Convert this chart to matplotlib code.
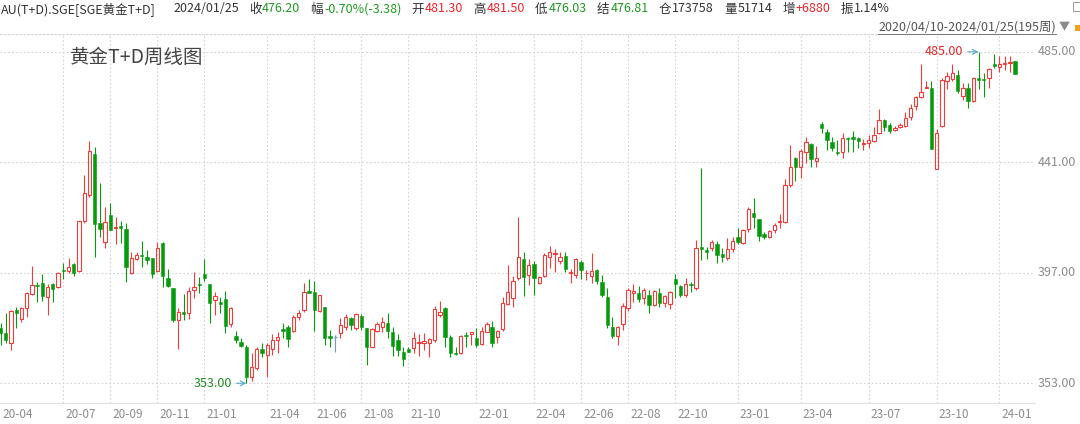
import numpy as np
import matplotlib.pyplot as plt
from matplotlib.patches import Rectangle
from matplotlib.lines import Line2D

plt.rcParams['font.family'] = ['Noto Sans CJK SC', 'DejaVu Sans']

# weekly OHLC, 2020/04/10 - 2024/01/25 (195 weeks)
opens = [374.9, 372.9, 368.9, 382.2, 378.5, 382.8, 388.4, 392.3, 393.1, 387.2,
         392.4, 391.5, 398.1, 397.8, 400.4, 397.8, 417.8, 428.0, 444.3, 416.7,
         409.4, 419.9, 414.9, 415.6, 414.4, 397.0, 402.6, 403.9, 403.1, 403.0,
         397.8, 408.7, 394.8, 390.8, 378.2, 381.4, 380.8, 390.1, 392.5, 396.5,
         392.5, 386.1, 385.5, 386.6, 376.6, 371.9, 369.3, 367.3, 355.6, 358.9,
         366.5, 364.2, 366.5, 370.2, 374.5, 375.5, 373.8, 379.2, 382.2, 389.9,
         389.5, 381.9, 383.2, 371.8, 371.3, 372.9, 375.5, 378.8, 374.9, 379.9,
         374.9, 367.3, 373.8, 375.5, 376.9, 373.3, 370.2, 365.6, 366.5, 366.9,
         369.2, 369.2, 369.2, 370.2, 380.2, 382.8, 371.6, 365.2, 365.2, 372.2,
         372.6, 370.9, 368.6, 373.5, 375.5, 371.3, 374.5, 384.4, 386.8, 394.8,
         402.3, 396.1, 400.5, 392.8, 395.7, 403.1, 404.3, 401.8, 403.7, 397.0,
         396.1, 401.4, 396.8, 395.7, 398.1, 393.5, 387.2, 375.5, 371.9, 376.6,
         382.8, 389.1, 389.1, 386.8, 388.1, 384.2, 389.1, 384.8, 384.5, 394.4,
         391.7, 388.1, 392.5, 390.8, 407.1, 406.1, 406.7, 408.5, 404.5, 402.8,
         406.3, 411.4, 408.7, 414.3, 420.9, 418.4, 412.4, 411.4, 414.0, 417.4,
         417.1, 431.9, 442.8, 439.3, 445.2, 448.3, 441.6, 456.2, 453.2, 449.2,
         445.0, 444.9, 450.8, 451.2, 450.5, 448.3, 448.8, 449.6, 452.8, 457.8,
         455.9, 453.9, 454.9, 455.5, 459.2, 463.6, 466.9, 470.6, 470.5, 438.2,
         455.5, 473.5, 474.2, 475.8, 467.5, 470.5, 465.4, 474.3, 474.1, 474.4,
         479.9, 479.1, 480.3, 480.5, 481.3]
highs = [376.9, 380.8, 382.2, 383.5, 383.5, 389.5, 399.7, 393.5, 396.4, 392.5,
         393.1, 397.4, 400.8, 402.7, 401.0, 417.8, 435.9, 449.5, 447.2, 432.6,
         423.1, 424.6, 419.3, 417.7, 416.7, 405.4, 405.4, 409.8, 406.1, 403.0,
         409.1, 409.4, 398.4, 390.8, 382.8, 388.4, 391.5, 397.4, 395.4, 402.4,
         392.5, 389.5, 387.5, 389.9, 383.5, 373.8, 371.0, 368.2, 365.2, 367.6,
         368.9, 368.9, 372.6, 373.5, 376.9, 376.2, 380.2, 382.2, 392.8, 394.4,
         393.8, 388.1, 383.2, 374.4, 372.2, 378.8, 380.6, 379.2, 381.1, 380.6,
         374.9, 374.9, 377.5, 379.5, 380.8, 375.5, 372.6, 367.6, 367.6, 373.3,
         372.6, 372.9, 370.9, 383.8, 385.9, 383.5, 372.2, 367.6, 372.2, 373.5,
         373.5, 374.9, 375.3, 377.5, 377.9, 374.2, 387.2, 400.1, 395.7, 419.3,
         405.4, 402.3, 401.8, 395.7, 405.0, 407.7, 406.3, 405.4, 405.4, 398.4,
         402.7, 402.1, 398.1, 404.7, 398.6, 396.1, 390.8, 379.5, 375.9, 385.1,
         390.8, 392.5, 391.7, 390.8, 390.1, 390.1, 390.8, 388.1, 389.7, 396.5,
         392.1, 394.8, 393.5, 410.0, 438.6, 407.1, 410.0, 409.8, 406.7, 410.7,
         411.4, 414.7, 414.3, 423.1, 426.6, 418.4, 413.4, 414.0, 416.7, 420.4,
         434.2, 447.9, 443.2, 446.2, 451.2, 448.8, 447.6, 456.9, 454.1, 450.9,
         449.9, 452.8, 451.2, 453.6, 451.2, 450.1, 451.9, 454.9, 462.1, 458.1,
         456.8, 455.4, 456.5, 461.2, 464.2, 467.4, 480.1, 473.5, 473.5, 454.1,
         474.4, 477.1, 480.1, 477.8, 472.4, 472.4, 474.8, 485.0, 476.4, 478.4,
         484.1, 483.3, 483.3, 483.3, 481.5]
lows = [368.2, 368.9, 366.2, 374.9, 377.5, 379.5, 388.1, 385.5, 385.9, 380.2,
        385.5, 390.8, 394.4, 396.8, 395.7, 397.4, 416.7, 427.3, 403.1, 411.1,
        406.7, 414.0, 408.5, 408.7, 393.5, 396.5, 402.1, 399.2, 400.5, 394.8,
        397.4, 391.2, 391.2, 377.5, 366.5, 378.2, 378.5, 386.8, 389.1, 393.9,
        377.1, 380.2, 381.1, 373.1, 375.5, 368.9, 367.3, 353.0, 354.0, 358.3,
        363.3, 355.4, 364.2, 364.9, 370.9, 367.6, 373.5, 378.2, 381.5, 388.8,
        373.9, 381.5, 368.2, 367.6, 365.3, 370.9, 374.2, 374.2, 374.2, 374.2,
        360.3, 367.3, 373.5, 373.5, 370.9, 363.9, 363.9, 360.0, 365.6, 364.9,
        363.9, 366.2, 363.6, 369.6, 379.5, 367.6, 363.3, 364.2, 364.7, 367.6,
        368.2, 367.6, 368.2, 373.5, 367.6, 369.2, 373.9, 384.2, 383.5, 394.1,
        387.7, 392.1, 388.1, 392.5, 395.2, 398.8, 397.4, 400.5, 397.4, 392.8,
        394.8, 394.4, 394.1, 393.1, 392.5, 387.2, 374.9, 370.9, 368.2, 374.2,
        381.9, 385.5, 385.5, 384.6, 381.1, 383.8, 383.2, 383.5, 382.6, 386.8,
        387.2, 387.5, 389.5, 390.1, 402.1, 402.3, 405.8, 400.8, 401.4, 402.1,
        405.4, 408.5, 408.5, 413.4, 414.7, 409.8, 410.3, 410.7, 412.7, 414.7,
        416.9, 431.3, 433.7, 434.6, 440.6, 439.0, 439.3, 452.5, 445.9, 445.6,
        443.9, 442.6, 445.2, 445.2, 446.6, 445.9, 446.6, 449.2, 452.3, 453.6,
        452.8, 453.6, 454.5, 455.2, 457.8, 461.8, 466.5, 470.5, 446.2, 438.2,
        455.2, 470.1, 473.5, 468.5, 465.8, 462.5, 465.1, 470.0, 466.9, 470.4,
        478.4, 477.1, 477.7, 477.1, 476.03]
closes = [372.9, 370.2, 381.8, 380.9, 382.8, 388.8, 392.1, 391.9, 387.9, 391.5,
          390.5, 397.0, 397.6, 399.4, 397.0, 417.6, 428.6, 445.6, 416.3, 414.4,
          417.4, 414.0, 415.1, 415.0, 399.4, 402.7, 403.9, 403.7, 402.2, 396.5,
          406.7, 395.9, 391.7, 378.2, 381.5, 380.4, 389.7, 391.5, 392.1, 395.0,
          385.1, 387.7, 384.6, 375.8, 382.8, 370.2, 368.0, 355.6, 359.3, 366.5,
          365.2, 368.2, 370.2, 371.5, 373.8, 370.5, 379.2, 380.8, 389.2, 389.1,
          382.2, 388.1, 370.9, 370.9, 371.3, 376.2, 379.2, 376.2, 380.6, 375.3,
          367.3, 374.5, 376.6, 377.3, 374.0, 367.8, 366.2, 362.5, 365.6, 370.9,
          369.3, 369.7, 370.5, 382.4, 381.5, 371.6, 364.9, 364.7, 371.8, 371.8,
          373.3, 368.2, 373.9, 376.6, 368.9, 373.8, 384.8, 389.5, 393.9, 403.1,
          395.2, 400.1, 394.8, 395.2, 404.1, 405.1, 405.0, 403.1, 398.5, 397.1,
          402.3, 398.1, 396.9, 397.7, 393.9, 388.1, 376.2, 371.9, 375.5, 383.8,
          390.1, 389.7, 386.4, 390.1, 384.2, 389.7, 384.8, 387.7, 389.5, 392.4,
          388.1, 392.4, 392.0, 407.0, 406.3, 405.4, 409.4, 404.1, 403.2, 406.3,
          409.7, 409.4, 414.0, 422.4, 419.1, 411.7, 411.1, 413.5, 416.0, 417.5,
          431.9, 439.3, 439.3, 445.5, 448.9, 442.3, 442.6, 454.5, 449.9, 446.6,
          444.8, 450.5, 450.4, 450.3, 449.6, 448.4, 449.9, 451.9, 457.8, 454.9,
          453.6, 454.8, 455.9, 458.5, 462.5, 466.9, 468.9, 470.7, 446.2, 452.8,
          473.8, 475.4, 476.4, 469.5, 470.5, 465.5, 474.4, 474.0, 473.8, 478.0,
          479.6, 480.1, 480.4, 480.7, 476.2]

month_idx = [12, 21, 30, 39, 51, 60, 69, 78, 91, 102, 111, 120, 129, 141, 153, 166, 179, 191]
month_labels = ['20-07', '20-09', '20-11', '21-01', '21-04', '21-06', '21-08', '21-10',
                '22-01', '22-04', '22-06', '22-08', '22-10', '23-01', '23-04', '23-07',
                '23-10', '24-01']
y_ticks = [353.00, 397.00, 441.00, 485.00]

header_parts = [
    [('AU(T+D).SGE[SGE黄金T+D]', 'k')],
    [('2024/01/25', 'k')],
    [('收', 'k'), ('476.20', 'g')],
    [('幅', 'k'), ('-0.70%(-3.38)', 'g')],
    [('开', 'k'), ('481.30', 'r')],
    [('高', 'k'), ('481.50', 'r')],
    [('低', 'k'), ('476.03', 'g')],
    [('结', 'k'), ('476.81', 'g')],
    [('仓', 'k'), ('173758', 'k')],
    [('量', 'k'), ('51714', 'k')],
    [('增', 'k'), ('+6880', 'r')],
    [('振', 'k'), ('1.14%', 'k')],
]

UP = '#f23b3b'
DOWN = '#079a0f'
FLAT = '#6f9cc6'
GRID = '#d4d4d4'
TXT = {'k': '#333333', 'g': '#1f9a22', 'r': '#e8262a'}

W, H = 1080, 424
fig = plt.figure(figsize=(W / 100, H / 100), dpi=100)
fig.patch.set_facecolor('white')
ax = fig.add_axes([0, 21 / H, 1035 / W, 369 / H])

n = len(opens)
bw = 0.64
for j in range(n):
    o, h, l, c = opens[j], highs[j], lows[j], closes[j]
    if c > o:
        ax.vlines(j, c, h, color=UP, lw=0.8)
        ax.vlines(j, l, o, color=UP, lw=0.8)
        ax.add_patch(Rectangle((j - bw / 2, o), bw, max(c - o, 0.3), fill=False,
                               edgecolor=UP, lw=0.8))
    elif c < o:
        ax.vlines(j, l, h, color=DOWN, lw=0.8)
        hgt = max(o - c, 0.45)
        ax.add_patch(Rectangle((j - bw / 2, (o + c) / 2 - hgt / 2), bw, hgt,
                               facecolor=DOWN, edgecolor=DOWN, lw=0.4))
    else:
        ax.vlines(j, l, h, color=FLAT, lw=0.8)
        ax.hlines(o, j - bw / 2, j + bw / 2, color=FLAT, lw=1.0)

ax.set_xlim(-0.1, 197.8)
ax.set_ylim(345.14, 492.09)

dots = (0, (1.5, 2))
for v in y_ticks:
    ax.axhline(v, color=GRID, lw=0.8, linestyle=dots, zorder=0)
for j in month_idx:
    ax.axvline(j, color=GRID, lw=0.8, linestyle=dots, zorder=0)

ax.set_xticks([])
ax.set_yticks([])
for s in ['left', 'right']:
    ax.spines[s].set_visible(False)
ax.spines['bottom'].set_color('#e2e2e2')
ax.spines['top'].set_color(GRID)
ax.spines['top'].set_linestyle(dots)

for j, lab in zip([0] + month_idx, ['20-04'] + month_labels):
    ax.annotate(lab, xy=(j, 0), xycoords=('data', 'axes fraction'),
                xytext=(2, -11), textcoords='offset pixels', ha='left', va='center',
                fontsize=8.5, color='#8c8c8c')
for v in y_ticks:
    ax.annotate(f'{v:.2f}', xy=(1, v), xycoords=('axes fraction', 'data'),
                xytext=(3, 0), textcoords='offset pixels', ha='left', va='center',
                fontsize=9, color='#8c8c8c')

# high / low markers
hi = int(np.argmax(highs))
lo = int(np.argmin(lows))
arrow = dict(arrowstyle='->', color='#5ba6c9', lw=0.8, shrinkA=1, shrinkB=0)
ax.annotate(f'{highs[hi]:.2f}', xy=(hi, highs[hi]), xytext=(-15, 0),
            textcoords='offset pixels', ha='right', va='center', fontsize=9,
            color='#e0262a', arrowprops=arrow)
ax.annotate(f'{lows[lo]:.2f}', xy=(lo, lows[lo]), xytext=(-14, 0),
            textcoords='offset pixels', ha='right', va='center', fontsize=9,
            color='#1f8a22', arrowprops=arrow)

ax.text(70 / 1035, 1 - (57 - 34) / 369, '黄金T+D周线图', transform=ax.transAxes,
        fontsize=14, color='#444444', ha='left', va='center')

# header line
renderer = fig.canvas.get_renderer()
x = 1
y_head = 1 - 9 / H
for k, group in enumerate(header_parts):
    if k == 1:
        x = 173
    for txt, col in group:
        t = fig.text(x / W, y_head, txt, fontsize=9, color=TXT[col],
                     ha='left', va='center')
        x = t.get_window_extent(renderer).x1 + 1
    x += 9

rng = fig.text(1056 / W, 1 - 27 / H, '2020/04/10-2024/01/25(195周)', fontsize=9,
               color='#555555', ha='right', va='center')
bb = rng.get_window_extent(renderer)
fig.add_artist(Line2D([bb.x0 / W, bb.x1 / W], [1 - 34 / H, 1 - 34 / H],
                      color='#777777', lw=0.7))
fig.text(1059 / W, 1 - 27 / H, '▼', fontsize=8, color='#8a8a8a', ha='left', va='center')
fig.add_artist(Rectangle((1075 / W, 1 - 31 / H), 6 / W, 6 / H, facecolor='#f0a020',
                         edgecolor='none'))
fig.add_artist(Rectangle((1073 / W, 1 - 11 / H), 8 / W, 9 / H, facecolor='none',
                         edgecolor='#999999', lw=0.7))

fig.savefig('out.png', dpi=100)
